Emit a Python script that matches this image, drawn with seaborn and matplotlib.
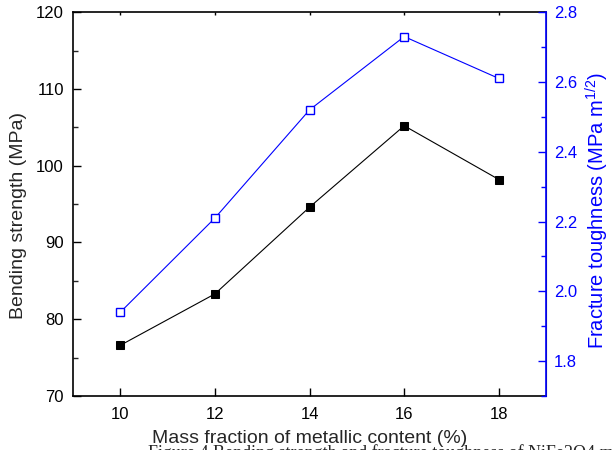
import pandas as pd
import matplotlib
matplotlib.use("Agg")
import matplotlib.pyplot as plt
import seaborn as sns
from matplotlib.ticker import MultipleLocator

sns.set_style("ticks")
plt.rcParams['font.family'] = ['Liberation Sans', 'DejaVu Sans']
plt.rcParams['mathtext.fontset'] = 'custom'
plt.rcParams['mathtext.rm'] = 'Liberation Sans'

# Data
mass_fraction = [10, 12, 14, 16, 18]
bending_strength = [76.6, 83.3, 94.6, 105.2, 98.2]
fracture_toughness = [1.94, 2.21, 2.52, 2.73, 2.61]

df = pd.DataFrame({'mass': mass_fraction,
                   'bending': bending_strength,
                   'toughness': fracture_toughness})

blue = '#0000ff'

fig, ax = plt.subplots(figsize=(6.13, 4.5), dpi=100)
fig.subplots_adjust(left=0.119, right=0.891, top=0.973, bottom=0.12)

sns.lineplot(data=df, x='mass', y='bending', ax=ax, color='black',
             marker='s', markersize=6, markeredgecolor='black',
             markerfacecolor='black', linewidth=0.8)

ax2 = ax.twinx()
sns.lineplot(data=df, x='mass', y='toughness', ax=ax2, color=blue,
             marker='s', markersize=6, markeredgecolor=blue,
             markerfacecolor='white', markeredgewidth=1.0, linewidth=0.8)

ax.set_xlim(9, 19)
ax.set_ylim(70, 120)
ax2.set_ylim(1.7, 2.8)

ax.xaxis.set_major_locator(MultipleLocator(2))
ax.yaxis.set_major_locator(MultipleLocator(10))
ax.yaxis.set_minor_locator(MultipleLocator(5))
ax2.set_yticks([1.8, 2.0, 2.2, 2.4, 2.6, 2.8])
ax2.set_yticklabels(['1.8', '2.0', '2.2', '2.4', '2.6', '2.8'])
ax2.yaxis.set_minor_locator(MultipleLocator(0.1))

ax.tick_params(axis='both', which='major', direction='in', length=6,
               width=1, labelsize=12, colors='black')
ax.tick_params(axis='y', which='major', pad=6.5)
ax.tick_params(axis='y', which='minor', direction='in', length=3.5, width=1)
ax.tick_params(axis='x', which='major', pad=7.8)
ax.tick_params(axis='y', which='both', right=False)
ax.tick_params(axis='x', which='major', top=True, labeltop=False)
# tiny marks on the top spine
for t in ax.xaxis.get_major_ticks():
    t.tick2line.set_markersize(2)

ax2.tick_params(axis='y', which='major', direction='in', length=6,
                width=1, labelsize=12, colors=blue, pad=5.5)
ax2.tick_params(axis='y', which='minor', direction='in', length=3.5,
                width=1, colors=blue)

for s in ['left', 'bottom', 'top']:
    ax.spines[s].set_linewidth(1.2)
    ax.spines[s].set_color('black')
ax2.spines['right'].set_color(blue)
ax2.spines['right'].set_linewidth(1.2)
ax2.spines['left'].set_visible(False)
ax2.spines['top'].set_visible(False)
ax2.spines['bottom'].set_visible(False)

ax.set_xlabel('Mass fraction of metallic content (%)', fontsize=14, labelpad=6)
ax.set_ylabel('Bending strength (MPa)', fontsize=14)
ax.yaxis.set_label_coords(-0.097, 0.469)
ax2.set_ylabel(r'Fracture toughness (MPa m$^{1/2}$)', fontsize=14.5,
               color=blue)
ax2.yaxis.set_label_coords(1.079, 0.484)

# caption cut off at the bottom edge of the image
fig.text(148 / 613, -0.018, 'Figure 4 Bending strength and fracture toughness of NiFe2O4 matrix',
         family=['Liberation Serif', 'DejaVu Serif'], fontsize=13,
         ha='left', va='baseline')

fig.savefig('out.png', dpi=100)
